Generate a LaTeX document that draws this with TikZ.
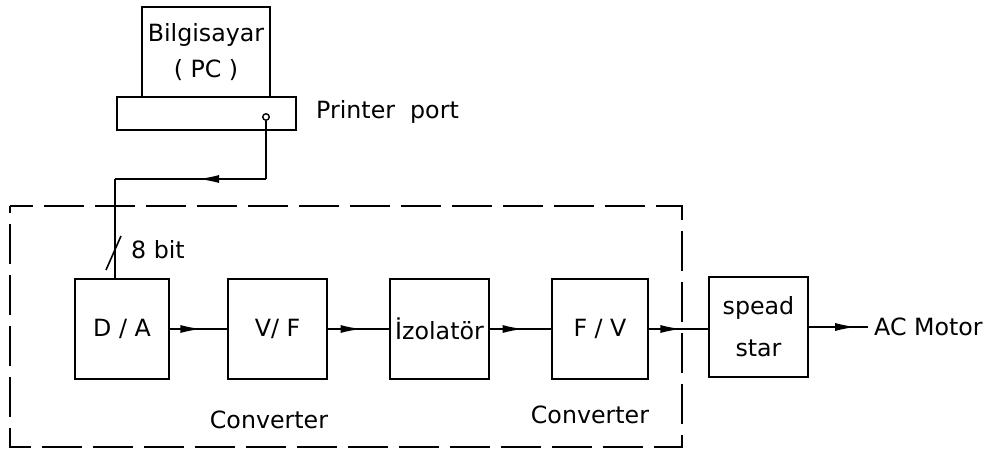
\documentclass[tikz,border=0pt]{standalone}
\usepackage{fontspec}
\setmainfont{DejaVu Sans}
\usetikzlibrary{arrows.meta,decorations.markings}

\begin{document}
\begin{tikzpicture}[x=0.02cm, y=-0.02cm, >=stealth,
        font=\fontsize{13.5}{16}\selectfont,
        box/.style={draw, line width=1.1pt, minimum width=1.98cm, minimum height=2cm, inner sep=0pt, align=center},
        wire/.style={line width=0.9pt},
        midarrow/.style={postaction={decorate}, decoration={markings,
                mark=at position #1 with {\arrow{Latex[length=4.2mm,width=1.6mm]}}}},
        midarrow/.default=0.55,
        frame/.style={line width=1.1pt, dash pattern=on 0.8cm off 0.22cm, dash phase=0.655cm}]
    \useasboundingbox (0,0) rectangle (992,453);

    % 1. The computer sitting on its printer port
    \node[draw, line width=1.1pt, minimum width=2.56cm, minimum height=1.8cm, inner sep=0pt,
        align=center, font=\fontsize{13.5}{20}\selectfont] (pc) at (206,52) {Bilgisayar\\( PC )};
    \node[draw, line width=1.1pt, minimum width=3.58cm, minimum height=0.66cm] (port) at (206.5,113.5) {};
    \node[circle, draw, line width=0.8pt, minimum size=0.13cm, inner sep=0pt] (pin) at (266,117) {};
    \node[anchor=west] (porttext) at (310,112) {Printer\ \ port};

    % 2. The dashed frame round the interface card
    \draw[frame] (10,206) rectangle (682,447);

    % 3. The blocks of the chain
    \node[box, minimum width=1.88cm] (da) at (122,329) {D / A};
    \node[box] (vf) at (277.5,329) {V/ F};
    \node[box] (izo) at (439.5,329) {İzolatör};
    \node[box, minimum width=1.92cm] (fv) at (600,329) {F / V};
    \node[box, font=\fontsize{13.5}{24}\selectfont] (ss) at (758.5,327) {spead\\star};
    \node[anchor=west] (motor) at (868,327) {AC Motor};

    \node (conv1) at (269,420) {Converter};
    \node (conv2) at (590,415) {Converter};

    % 4. Cable from the port down to the D/A
    \coordinate (bendR) at (266,179);
    \coordinate (bendL) at (115,179);
    \draw[wire] (pin.south) -- (bendR);
    \draw[wire, midarrow=0.45] (bendR) -- (bendL);
    \draw[wire] (bendL) -- (bendL |- da.north);

    % 5. The 8 bit bus mark
    \draw[wire] (106,270) -- (121,236);
    \node[anchor=west] (bits) at (125,250) {8 bit};

    % 6. Signal flow along the chain
    \draw[wire, midarrow] (da) -- (vf);
    \draw[wire, midarrow] (vf) -- (izo);
    \draw[wire, midarrow] (izo) -- (fv);
    \draw[wire, midarrow] (fv.east) -- (fv.east -| ss.west);
    \draw[wire, midarrow=0.8] (ss) -- (motor);

\end{tikzpicture}
\end{document}
